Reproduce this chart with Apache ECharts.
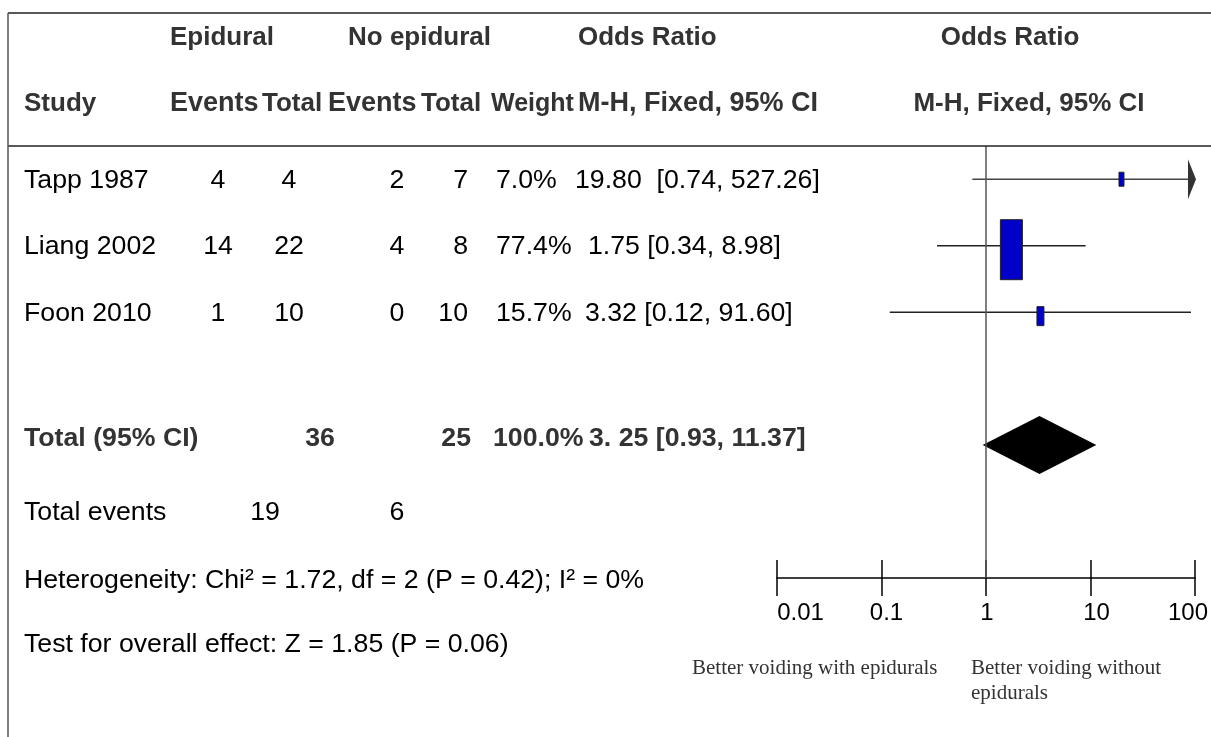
<!DOCTYPE html>
<html><head><meta charset="utf-8">
<script src="https://cdn.jsdelivr.net/npm/echarts@6/dist/echarts.min.js"></script>
<style>html,body{margin:0;padding:0;background:#fff}#c{width:1211px;height:737px}</style>
</head><body><div id="c"></div>
<script>
// ---------- data ----------
const studies = ['Tapp 1987', 'Liang 2002', 'Foon 2010'];
const epiEvents = [4, 14, 1];
const epiTotal = [4, 22, 10];
const noEvents = [2, 4, 0];
const noTotal = [7, 8, 10];
const weights = ['7.0%', '77.4%', '15.7%'];
const orValue = [19.80, 1.75, 3.32];
const ciLow = [0.74, 0.34, 0.12];
const ciHigh = [527.26, 8.98, 91.60];
const orText = ['19.80  [0.74, 527.26]', '1.75 [0.34, 8.98]', '3.32 [0.12, 91.60]'];
const totalLabel = 'Total (95% CI)';
const totalEpi = 36, totalNo = 25, totalWeight = '100.0%';
const totalOR = 3.25, totalLow = 0.93, totalHigh = 11.37;
const totalORText = '3. 25 [0.93, 11.37]';
const totalEventsLabel = 'Total events';
const totalEventsEpi = 19, totalEventsNo = 6;
const heterogeneity = 'Heterogeneity: Chi² = 1.72, df = 2 (P = 0.42); I² = 0%';
const overallEffect = 'Test for overall effect: Z = 1.85 (P = 0.06)';
const tickValues = [0.01, 0.1, 1, 10, 100];
const tickLabels = ['0.01', '0.1', '1', '10', '100'];
const favoursLeft = 'Better voiding with epidurals';
const favoursRight = 'Better voiding without\nepidurals';

// ---------- styles ----------
const SANS = '"Liberation Sans", Arial, sans-serif';
const SERIF = '"Liberation Serif", "Times New Roman", serif';
const REG = 26.7, BOLD = 26;
const boxW = [5, 22, 7];
const boxH = [14, 60, 19];
const boxDy = [0, 4, 4];
const totalRow = 4;

const chart = echarts.init(document.getElementById('c'), null, {renderer: 'canvas'});

const studyData = studies.map((s, i) => [orValue[i], i, ciLow[i], ciHigh[i]]);
const totalData = [[totalOR, totalRow, totalLow, totalHigh]];

const axMin = tickValues[0], axMax = tickValues[tickValues.length - 1];

const option = {
  animation: false,
  backgroundColor: '#fff',
  grid: {left: 777, right: 16, top: 146, bottom: 159, containLabel: false},
  xAxis: [{
    type: 'log', logBase: 10, min: axMin, max: axMax, position: 'bottom',
    axisLine: {show: true, onZero: false, lineStyle: {color: '#000', width: 1.5}},
    axisTick: {show: true, length: 18, lineStyle: {color: '#000', width: 1.5}},
    splitLine: {show: false},
    axisLabel: {
      show: true, margin: 23, showMinLabel: true, showMaxLabel: true,
      fontFamily: SANS, fontSize: 24, color: '#000',
      formatter: v => {
        const k = Math.round(Math.log10(v)) + 2;
        return '{t' + k + '|' + tickLabels[k] + '}';
      },
      rich: {
        t0: {fontFamily: SANS, fontSize: 24, color: '#000', padding: [0, 0, 0, 47]},
        t1: {fontFamily: SANS, fontSize: 24, color: '#000', padding: [0, 0, 0, 10]},
        t2: {fontFamily: SANS, fontSize: 24, color: '#000', padding: [0, 0, 0, 2]},
        t3: {fontFamily: SANS, fontSize: 24, color: '#000', padding: [0, 0, 0, 12]},
        t4: {fontFamily: SANS, fontSize: 24, color: '#000', padding: [0, 14, 0, 0]}
      }
    }
  }, {
    type: 'log', logBase: 10, min: axMin, max: axMax, position: 'bottom',
    axisLine: {show: false, onZero: false},
    axisTick: {show: true, inside: true, length: 18, lineStyle: {color: '#000', width: 1.5}},
    splitLine: {show: false},
    axisLabel: {show: false}
  }],
  yAxis: {type: 'value', min: -0.5, max: 6, inverse: true, show: false},
  series: [{
    type: 'custom',
    xAxisIndex: 0, yAxisIndex: 0,
    data: studyData,
    encode: {x: 0, y: 1},
    z: 3,
    renderItem: (params, api) => {
      const i = params.dataIndex;
      const or = api.value(0), y = api.value(1), lo = api.value(2), hi = api.value(3);
      const pLo = api.coord([Math.max(lo, axMin), y]);
      const pHi = api.coord([Math.min(hi, axMax), y]);
      const pOr = api.coord([or, y]);
      const children = [{
        type: 'line',
        shape: {x1: pLo[0], y1: pLo[1], x2: pHi[0], y2: pHi[1]},
        style: {stroke: hi > axMax ? '#444' : '#222', lineWidth: 1.5}
      }];
      if (hi > axMax) {
        children.push({
          type: 'polygon',
          shape: {points: [[pHi[0] + 1, pHi[1]], [pHi[0] - 7, pHi[1] - 20], [pHi[0] - 7, pHi[1] + 20]]},
          style: {fill: '#333'}
        });
      }
      children.push({
        type: 'rect',
        shape: {x: pOr[0] - boxW[i] / 2, y: pOr[1] - boxH[i] / 2 + boxDy[i], width: boxW[i], height: boxH[i]},
        style: {fill: '#0000C8', stroke: '#222', lineWidth: 1}
      });
      return {type: 'group', children};
    },
    markLine: {
      silent: true, symbol: 'none', animation: false,
      label: {show: false},
      lineStyle: {color: '#555', width: 1.5, type: 'solid'},
      data: [{xAxis: 1}]
    }
  }, {
    type: 'custom',
    xAxisIndex: 0, yAxisIndex: 0,
    data: totalData,
    encode: {x: 0, y: 1},
    z: 3,
    renderItem: (params, api) => {
      const or = api.value(0), y = api.value(1), lo = api.value(2), hi = api.value(3);
      const pLo = api.coord([lo, y]), pHi = api.coord([hi, y]), pOr = api.coord([or, y]);
      return {
        type: 'polygon',
        shape: {points: [[pLo[0], pLo[1]], [pOr[0], pOr[1] - 29], [pHi[0], pHi[1]], [pOr[0], pOr[1] + 29]]},
        style: {fill: '#000'}
      };
    }
  }]
};
chart.setOption(option);

// ---------- table text ----------
const rowY = i => chart.convertToPixel({gridIndex: 0}, [1, i])[1];
function txt(x, y, text, o) {
  o = o || {};
  const bold = !!o.bold;
  return {
    type: 'text', x: x, y: y, z: 10, silent: true,
    style: {
      text: String(text),
      font: (bold ? 'bold ' : '') + (o.size || (bold ? BOLD : REG)) + 'px ' + (o.family || SANS),
      fill: o.color || (bold ? '#333' : '#000'),
      align: o.align || 'left', textAlign: o.align || 'left',
      verticalAlign: 'middle', textVerticalAlign: 'middle'
    }
  };
}
const els = [];
// frame lines
els.push({type: 'line', z: 5, silent: true, shape: {x1: 8, y1: 13, x2: 1211, y2: 13}, style: {stroke: '#222', lineWidth: 1.5}});
els.push({type: 'line', z: 5, silent: true, shape: {x1: 8, y1: 146, x2: 1211, y2: 146}, style: {stroke: '#222', lineWidth: 1.5}});
els.push({type: 'line', z: 5, silent: true, shape: {x1: 8, y1: 13, x2: 8, y2: 737}, style: {stroke: '#555', lineWidth: 1.5}});

// headers
const h1 = 38, h2 = 104;
els.push(txt(170, h1, 'Epidural', {bold: true}));
els.push(txt(348, h1, 'No epidural', {bold: true}));
els.push(txt(578, h1, 'Odds Ratio', {bold: true}));
els.push(txt(1010, h1, 'Odds Ratio', {bold: true, align: 'center'}));
els.push(txt(24, h2, 'Study', {bold: true}));
els.push(txt(170, h2, 'Events', {bold: true, size: 27}));
els.push(txt(262, h2, 'Total', {bold: true}));
els.push(txt(328, h2, 'Events', {bold: true, size: 27}));
els.push(txt(421, h2, 'Total', {bold: true}));
els.push(txt(491, h2, 'Weight', {bold: true, size: 25}));
els.push(txt(578, h2, 'M-H, Fixed, 95% CI', {bold: true, size: 27}));
els.push(txt(1029, h2, 'M-H, Fixed, 95% CI', {bold: true, align: 'center'}));

// study rows
const orX = [575, 588, 585];
studies.forEach((s, i) => {
  const y = rowY(i) + 1;
  els.push(txt(24, y, s));
  els.push(txt(218, y, epiEvents[i], {align: 'center'}));
  els.push(txt(289, y, epiTotal[i], {align: 'center'}));
  els.push(txt(397, y, noEvents[i], {align: 'center'}));
  els.push(txt(468, y, noTotal[i], {align: 'right'}));
  els.push(txt(496, y, weights[i]));
  els.push(txt(orX[i], y, orText[i]));
});

// total row
const ty = rowY(totalRow) - 6;
els.push(txt(24, ty, totalLabel, {bold: true, size: 26.7}));
els.push(txt(320, ty, totalEpi, {bold: true, align: 'center', size: 26.7}));
els.push(txt(471, ty, totalNo, {bold: true, align: 'right', size: 26.7}));
els.push(txt(493, ty, totalWeight, {bold: true, size: 26.7}));
els.push(txt(589, ty, totalORText, {bold: true, size: 26.7}));

// total events
const tey = 513;
els.push(txt(24, tey, totalEventsLabel));
els.push(txt(265, tey, totalEventsEpi, {align: 'center'}));
els.push(txt(397, tey, totalEventsNo, {align: 'center'}));

// footnotes
els.push(txt(24, 581, heterogeneity));
els.push(txt(24, 645, overallEffect));

// favours labels
els.push(txt(692, 668, favoursLeft, {family: SERIF, size: 21, color: '#333'}));
els.push({
  type: 'text', x: 971, y: 656, z: 10, silent: true,
  style: {
    text: favoursRight, font: '21px ' + SERIF, fill: '#333',
    align: 'left', textAlign: 'left', verticalAlign: 'top', textVerticalAlign: 'top', lineHeight: 25
  }
});

chart.setOption({graphic: {elements: els}});
</script>
</body></html>
